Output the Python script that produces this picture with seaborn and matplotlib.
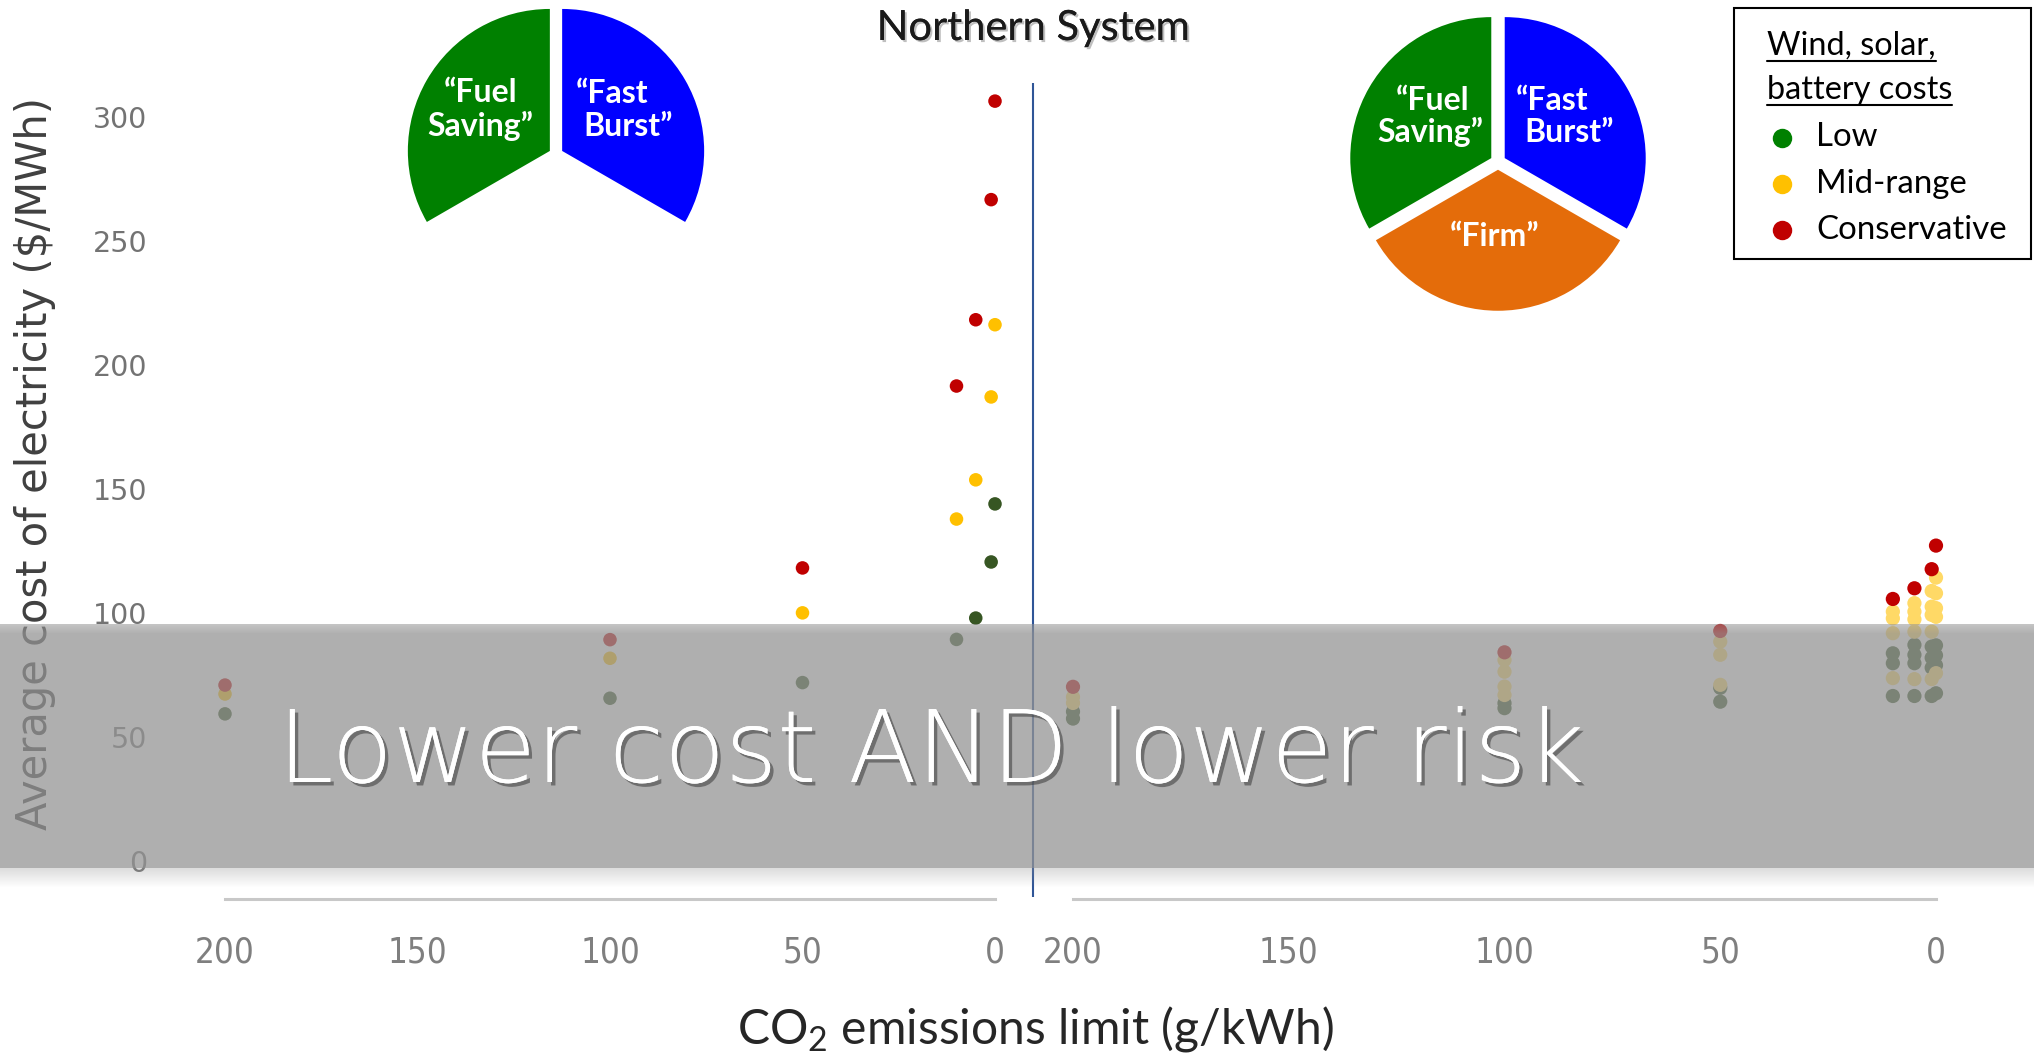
import numpy as np
import pandas as pd
import matplotlib
matplotlib.use("Agg")
import matplotlib.pyplot as plt
import matplotlib.patheffects as pe
from matplotlib.patches import Rectangle
import seaborn as sns

# ---------------- data ----------------
limits = [200, 100, 50, 10, 5, 1, 0]
cost_levels = ["Low", "Mid-range", "Conservative"]

# System with "Fuel Saving" + "Fast Burst" resources
two_low = [59.4, 65.7, 72.0, 89.4, 98.0, 120.6, 144.0]
two_mid = [67.4, 81.8, 100.1, 137.9, 153.7, 187.1, 216.2]
two_cons = [71.0, 89.3, 118.2, 191.5, 218.2, 266.6, 306.3]

# System that adds a "Firm" resource: several cases per limit
three_low_x = [200, 200, 100, 100, 50, 50, 10, 10, 10, 5, 5, 5, 5,
               1, 1, 1, 1, 0, 0, 0, 0]
three_low = [60.3, 57.5, 63.7, 61.7, 69.9, 64.3, 83.8, 79.8, 66.6,
             87.2, 83.2, 79.8, 66.6, 86.5, 82.0, 78.0, 66.6,
             87.0, 83.0, 79.0, 67.7]
three_mid_x = [200, 200, 100, 100, 100, 100, 50, 50, 50, 10, 10, 10, 10,
               5, 5, 5, 5, 5, 1, 1, 1, 1, 1, 0, 0, 0, 0, 0]
three_mid = [66.2, 63.8, 81.1, 76.4, 70.4, 67.0, 88.5, 83.2, 71.1,
             100.6, 97.9, 91.9, 73.8, 104.0, 100.6, 97.5, 92.5, 73.4,
             108.9, 102.6, 99.3, 92.5, 73.4, 114.3, 108.0, 102.0, 98.5, 75.8]
three_cons = [70.3, 84.2, 92.8, 105.7, 110.0, 117.7, 127.2]

y_ticks = [0, 50, 100, 150, 200, 250, 300]
x_ticks = [200, 150, 100, 50, 0]

pie_shares = [1, 1, 1]
pie_names = ["Fuel Saving", "Firm", "Fast Burst"]

# ---------------- styling ----------------
W, H = 2034, 1054
GREEN_DARK = "#375623"
GREEN = "#008000"
YELLOW = "#FFC000"
YELLOW_LIGHT = "#FFD966"
RED = "#C00000"
BLUE = "#0000FF"
ORANGE = "#E46C0A"

sns.set_style("white")
plt.rcParams["font.family"] = ["Lato", "DejaVu Sans"]
plt.rcParams["mathtext.default"] = "regular"

fig = plt.figure(figsize=(W / 100, H / 100), dpi=100)

Y0_PX, YT_PX = 899, 83
YLIM = (-15.2, 313.6)


def panel(left_px, right_px):
    return fig.add_axes([left_px / W, 1 - Y0_PX / H,
                         (right_px - left_px) / W, (Y0_PX - YT_PX) / H])


ax_l = panel(225, 995)
ax_r = panel(1073, 1936)

left_df = pd.DataFrame({
    "limit": limits * 3,
    "cost": two_low + two_mid + two_cons,
    "level": np.repeat(cost_levels, len(limits)),
})
right_df = pd.concat([
    pd.DataFrame({"limit": three_low_x, "cost": three_low, "level": "Low"}),
    pd.DataFrame({"limit": three_mid_x, "cost": three_mid, "level": "Mid-range"}),
    pd.DataFrame({"limit": limits, "cost": three_cons, "level": "Conservative"}),
], ignore_index=True)

sns.scatterplot(data=left_df, x="limit", y="cost", hue="level",
                palette={"Low": GREEN_DARK, "Mid-range": YELLOW, "Conservative": RED},
                s=95, linewidth=0, legend=False, ax=ax_l, clip_on=False, zorder=3)
sns.scatterplot(data=right_df, x="limit", y="cost", hue="level",
                palette={"Low": GREEN_DARK, "Mid-range": YELLOW_LIGHT, "Conservative": RED},
                s=105, linewidth=0, legend=False, ax=ax_r, clip_on=False, zorder=3)

for ax in (ax_l, ax_r):
    ax.set_xlim(200, 0)
    ax.set_ylim(*YLIM)
    ax.set_xticks(x_ticks)
    ax.set_xticklabels([str(t) for t in x_ticks],
                       fontfamily="DejaVu Sans", fontstretch="condensed",
                       fontsize=25, color="#7f7f7f")
    ax.tick_params(axis="x", length=0, pad=26)
    ax.set_xlabel("")
    ax.set_ylabel("")
    for s in ("top", "right", "left"):
        ax.spines[s].set_visible(False)
    ax.spines["bottom"].set_color("#C8C8C8")
    ax.spines["bottom"].set_linewidth(2.2)
    ax.patch.set_alpha(0)

ax_l.set_yticks(y_ticks)
ax_l.set_yticklabels([str(t) for t in y_ticks], fontfamily="DejaVu Sans",
                     fontsize=20.5, color="#737373")
ax_l.tick_params(axis="y", length=0, pad=56)
ax_r.set_yticks([])

# ---------------- overlay (pixel coordinates) ----------------
ov = fig.add_axes([0, 0, 1, 1], zorder=10)
ov.set_xlim(0, W)
ov.set_ylim(H, 0)
ov.axis("off")
ov.patch.set_alpha(0)

ov.text(35, 464, "Average cost of electricity ($/MWh)", rotation=90,
        ha="center", va="center", fontfamily="DejaVu Sans", fontsize=30,
        color="#404040", zorder=1)

# separator between the two systems
ov.plot([1033, 1033], [83, 897], color="#2F5597", lw=1.5, zorder=1,
        solid_capstyle="butt")

# translucent band with soft edges
rows = np.arange(620, 892)
alpha = np.zeros(len(rows))
alpha[(rows >= 624) & (rows < 634)] = np.linspace(0.55, 0.745, 10)
alpha[(rows >= 634) & (rows < 868)] = 0.745
sh = (rows >= 868) & (rows < 888)
alpha[sh] = np.linspace(0.32, 0.0, sh.sum())
band = np.zeros((len(rows), 1, 4))
band[..., :3] = 148 / 255
band[:, 0, 3] = alpha
ov.imshow(band, extent=(0, W, 892, 620), aspect="auto",
          interpolation="nearest", zorder=2)
ov.set_xlim(0, W)
ov.set_ylim(H, 0)

ov.text(931, 782, "Lower cost AND lower risk", ha="center", va="baseline",
        color="white", fontsize=72, fontfamily="DejaVu Sans", fontweight=200,
        zorder=4,
        path_effects=[pe.withSimplePatchShadow(offset=(2.5, -2.5),
                                               shadow_rgbFace="#3a3a3a", alpha=0.55),
                      pe.Normal()])

ov.text(1033, 40, "Northern System", ha="center", va="baseline",
        fontsize=30, color="#1a1a1a", zorder=4,
        path_effects=[pe.withSimplePatchShadow(offset=(1.5, -1.5),
                                               shadow_rgbFace="#808080", alpha=0.5),
                      pe.Normal()])

ov.text(1035, 1044, "CO$_2$ emissions limit (g/kWh)", ha="center",
        va="baseline", fontsize=34.6, color="#262626", zorder=4)

# ---------------- legend box ----------------
ov.add_patch(Rectangle((1734, 8), 297, 251, facecolor="white",
                       edgecolor="black", lw=1.5, zorder=5))
fig.canvas.draw()
renderer = fig.canvas.get_renderer()
inv = ov.transData.inverted()
for txt, base, uline in (("Wind, solar,", 55, 61), ("battery costs", 99, 105)):
    t = ov.text(1767, base, txt, ha="left", va="baseline", fontsize=23.3,
                color="black", zorder=6)
    bb = t.get_window_extent(renderer=renderer)
    x0 = inv.transform((bb.x0, 0))[0]
    x1 = inv.transform((bb.x1, 0))[0]
    ov.plot([x0, x1], [uline, uline], color="black", lw=1.5, zorder=6)

for name, col, yy in zip(cost_levels, [GREEN, YELLOW, RED], [137.5, 184, 229.6]):
    ov.plot([1782], [yy], "o", color=col, markersize=14, mec="none", zorder=6)
    ov.text(1816, yy, name, ha="left", va="center", fontsize=23.8,
            color="black", zorder=6)


# ---------------- pies ----------------
def draw_pie(cx, cy, r, explode, colors, show, labels):
    half = 1.1 * r
    pax = fig.add_axes([(cx - half) / W, 1 - (cy + half) / H,
                        2 * half / W, 2 * half / H], zorder=12)
    wedges, _ = pax.pie(pie_shares, colors=colors, startangle=90,
                        counterclock=True, explode=[explode] * 3,
                        wedgeprops=dict(linewidth=0))
    for w, vis in zip(wedges, show):
        w.set_visible(vis)
    pax.set_xlim(-1.1, 1.1)
    pax.set_ylim(-1.1, 1.1)
    pax.set_aspect("equal")
    pax.axis("off")
    for txt, x, y in labels:
        pax.text(x, y, txt, ha="center", va="center", color="white",
                 fontsize=23, fontweight="bold")


draw_pie(556, 154.5, 142, 0.05, [GREEN, ORANGE, BLUE], [True, False, True],
         [("\u201cFuel", -0.528, 0.44), ("Saving\u201d", -0.535, 0.20),
          ("\u201cFast", 0.394, 0.433), ("Burst\u201d", 0.507, 0.20)])
draw_pie(1498, 162, 141, 0.055, [GREEN, ORANGE, BLUE], [True, True, True],
         [("\u201cFuel", -0.465, 0.437), ("Saving\u201d", -0.479, 0.211),
          ("\u201cFast", 0.387, 0.437), ("Burst\u201d", 0.507, 0.211),
          ("\u201cFirm\u201d", -0.025, -0.528)])

fig.savefig("out.png", dpi=100)
